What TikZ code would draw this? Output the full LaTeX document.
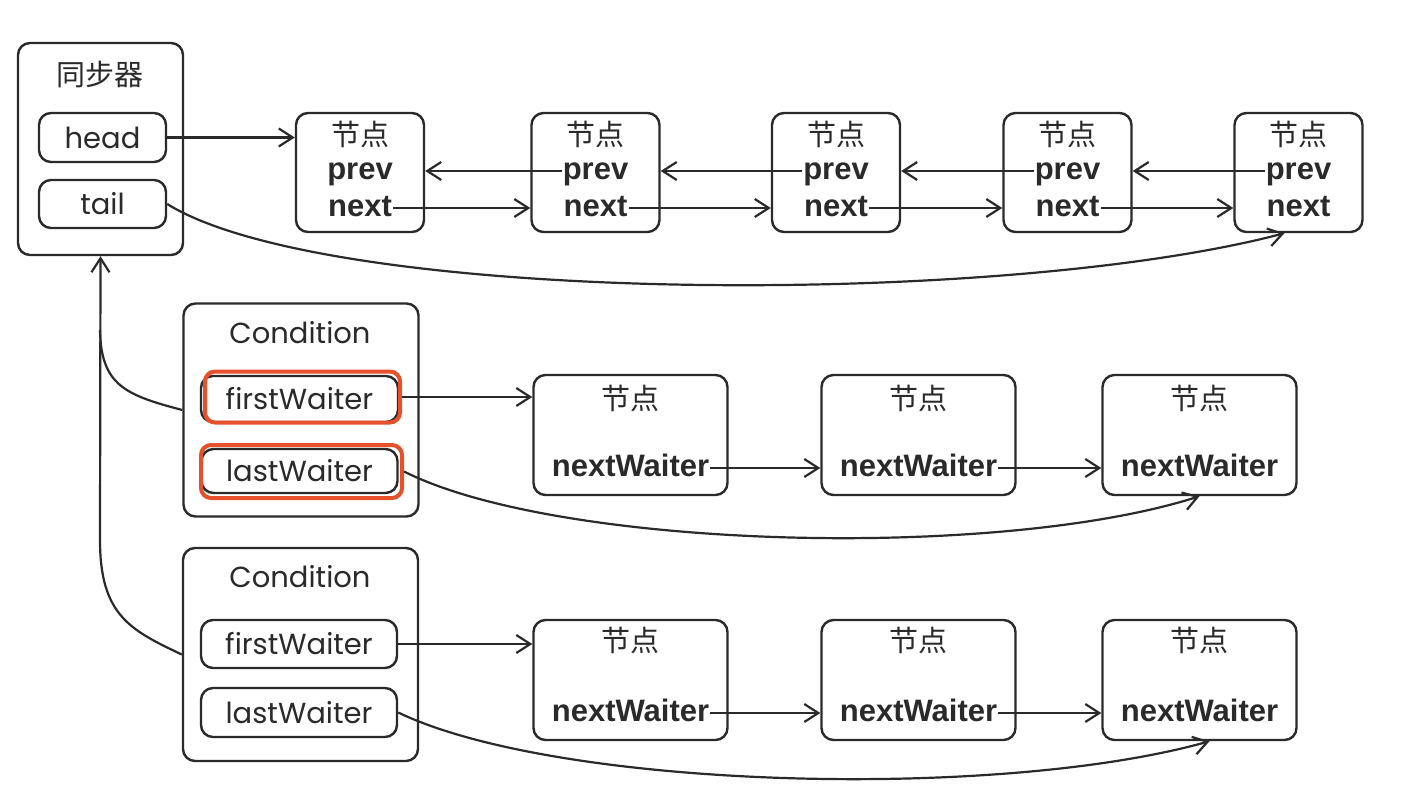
\documentclass[tikz,border=0pt]{standalone}
\usepackage{fontspec}
\newfontfamily\geo{Poppins}
\newfontfamily\bsans{Liberation Sans}
\newfontfamily\cjk{Noto Sans CJK SC}
\usetikzlibrary{arrows.meta}
\definecolor{ink}{HTML}{2A2A2A}
\definecolor{hlred}{HTML}{E6502A}
\begin{document}
\begin{tikzpicture}[x=1pt,y=-1pt,
  box/.style={draw=ink, line width=2.4pt, rounded corners=12pt, inner sep=0pt},
  hlbox/.style={draw=hlred, line width=4pt, rounded corners=10pt, inner sep=0pt},
  arr/.style={line width=2.2pt, draw=ink, -{Straight Barb[length=14pt,width=18pt]}},
  conn/.style={line width=2.2pt, draw=ink},
  lbl/.style={font=\geo\fontsize{29}{31}\selectfont, text=ink, inner sep=0pt},
  bl/.style={font=\bsans\bfseries\fontsize{31}{33}\selectfont, text=ink, inner sep=1pt, anchor=base},
  cj/.style={font=\cjk\fontsize{29}{31}\selectfont, text=ink, inner sep=0pt}
]
\useasboundingbox[fill=white] (0,0) rectangle (1412,808);

% synchronizer
\node[box, minimum width=165pt, minimum height=212pt] (sync) at (100.5,149) {};
\node[cj] (synct) at (100,75) {同步器};
\node[box, minimum width=127pt, minimum height=49pt, lbl] (head) at (102.5,137.5) {head};
\node[box, minimum width=127pt, minimum height=48pt, lbl] (tail) at (102.5,204) {tail};

% sync queue nodes
\foreach \i/\x in {1/360,2/595.5,3/836,4/1067.5,5/1298.5} {
  \node[box, minimum width=128pt, minimum height=119pt] (n\i) at (\x,172.5) {};
  \node[cj] (n\i t) at (\x,134) {节点};
  \node[bl] (n\i p) at (\x,179) {prev};
  \node[bl] (n\i n) at (\x,216) {next};
  \coordinate (n\i ps) at ([yshift=8pt]n\i p.base west);
  \coordinate (n\i ns) at ([yshift=8pt]n\i n.base east);
}
\foreach \a/\b in {1/2,2/3,3/4,4/5} {
  \draw[arr] (n\b ps) -- (n\a.east |- n\b ps);
  \draw[arr] (n\a ns) -- (n\b.west |- n\a ns);
}
\draw[arr] (head.east) -- (n1.west |- head.east);
\coordinate (tailend) at ([xshift=-14pt]n5.south);
\draw[arr] (tail.east) .. controls (330,305) and (1000,308) .. (tailend);

% condition 1
\node[box, minimum width=235pt, minimum height=213pt] (c1) at (301,410) {};
\node[lbl] (c1t) at (300,333) {Condition};
\node[box, minimum width=197pt, minimum height=46pt, lbl] (c1f) at (299.5,399) {firstWaiter};
\node[box, minimum width=196pt, minimum height=44pt, lbl] (c1l) at (299.5,471) {lastWaiter};
\node[hlbox, minimum width=195pt, minimum height=51pt] (c1fh) at (302.5,397) {};
\node[hlbox, minimum width=201pt, minimum height=53pt] (c1lh) at (301.5,471.5) {};

% condition 2
\node[box, minimum width=235pt, minimum height=213pt] (c2) at (300.5,654.5) {};
\node[lbl] (c2t) at (300,577) {Condition};
\node[box, minimum width=196pt, minimum height=48pt, lbl] (c2f) at (299,644) {firstWaiter};
\node[box, minimum width=196pt, minimum height=49pt, lbl] (c2l) at (299,712.5) {lastWaiter};

% condition queues
\foreach \r/\y/\ty/\wy in {a/435/398/476, b/680/640/721} {
  \foreach \i/\x in {1/630.5,2/918.5,3/1199.5} {
    \node[box, minimum width=194pt, minimum height=120pt] (q\r\i) at (\x,\y) {};
    \node[cj] (q\r\i t) at (\x,\ty) {节点};
    \node[bl] (q\r\i w) at (\x,\wy) {nextWaiter};
    \coordinate (q\r\i ws) at ([yshift=8pt]q\r\i w.base east);
  }
  \foreach \a/\b in {1/2,2/3} {
    \draw[arr] (q\r\a ws) -- (q\r\b.west |- q\r\a ws);
  }
}
\draw[arr] (c1fh.east) -- (qa1.west |- c1fh.east);
\draw[arr] (c2f.east) -- (qb1.west |- c2f.east);
\coordinate (qa3end) at ([xshift=0pt]qa3.south);
\coordinate (qb3end) at ([xshift=10pt]qb3.south);
\draw[arr] (c1lh.east) .. controls (560,550) and (1000,560) .. (qa3end);
\draw[arr] (c2l.east) .. controls (560,790) and (1000,800) .. (qb3end);

% back links to synchronizer
\coordinate (merge) at (100,540);
\draw[arr] (c2.west) .. controls (130,630) and (100,615) .. (merge) -- (sync.south);
\draw[conn] (c1.west) .. controls (125,395) and (101,385) .. (100,330);
\end{tikzpicture}
\end{document}
